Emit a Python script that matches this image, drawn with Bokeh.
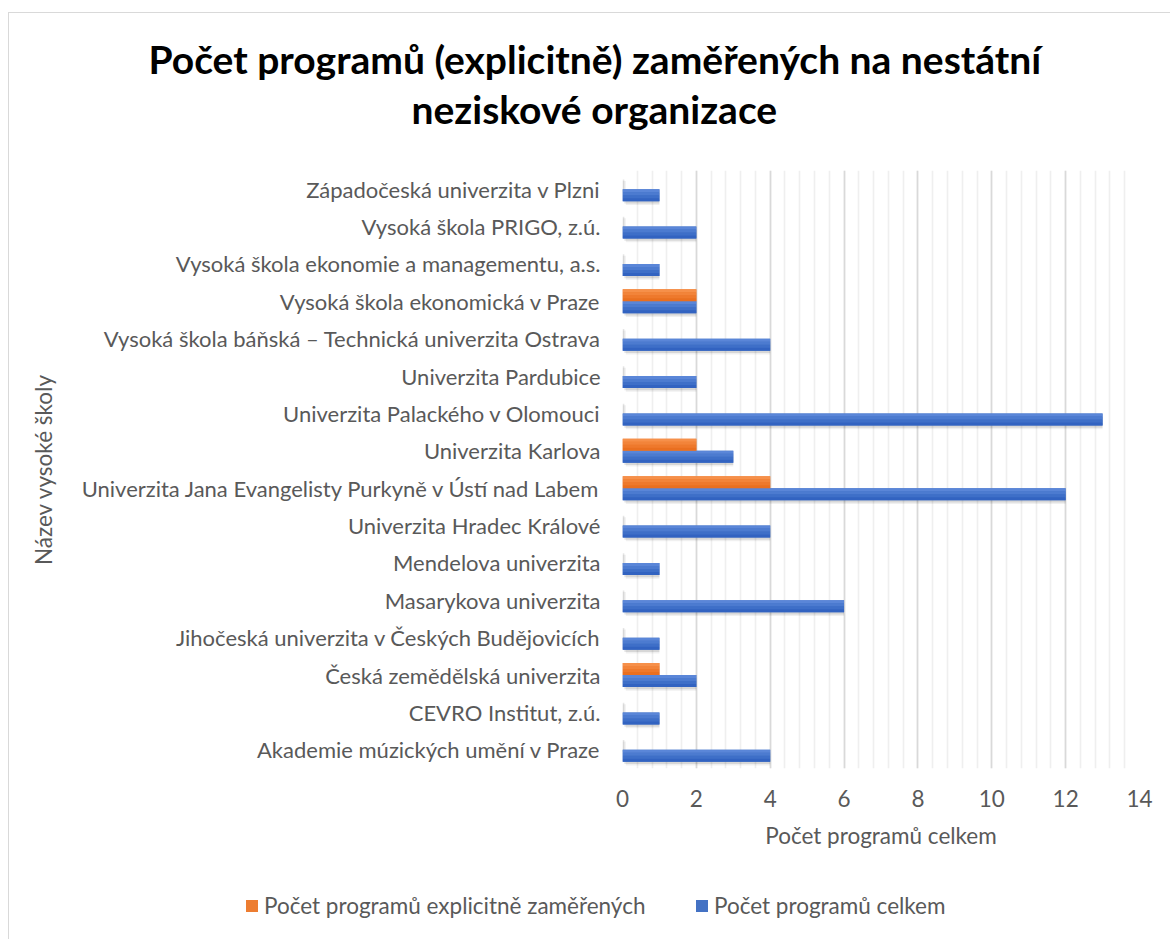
from bokeh.plotting import figure
from bokeh.layouts import column
from bokeh.models import ColumnDataSource, FactorRange, Title, Div, SingleIntervalTicker
from bokeh.transform import dodge
from bokeh.embed import file_html
from bokeh.resources import INLINE

categories = [
    "Západočeská univerzita v Plzni",
    "Vysoká škola PRIGO, z.ú.",
    "Vysoká škola ekonomie a managementu, a.s.",
    "Vysoká škola ekonomická v Praze",
    "Vysoká škola báňská – Technická univerzita Ostrava",
    "Univerzita Pardubice",
    "Univerzita Palackého v Olomouci",
    "Univerzita Karlova",
    "Univerzita Jana Evangelisty Purkyně v Ústí nad Labem",
    "Univerzita Hradec Králové",
    "Mendelova univerzita",
    "Masarykova univerzita",
    "Jihočeská univerzita v Českých Budějovicích",
    "Česká zemědělská univerzita",
    "CEVRO Institut, z.ú.",
    "Akademie múzických umění v Praze",
]
celkem = [1, 2, 1, 2, 4, 2, 13, 3, 12, 4, 1, 6, 1, 2, 1, 4]
explicitne = [0, 0, 0, 2, 0, 0, 0, 2, 4, 0, 0, 0, 0, 1, 0, 0]
x_ticks_interval = 2
x_max = 14

series_names = ["Počet programů explicitně zaměřených", "Počet programů celkem"]
title_lines = ["Počet programů (explicitně) zaměřených na nestátní", "neziskové organizace"]
x_title = "Počet programů celkem"
y_title = "Název vysoké školy"

FONT = "Lato"
GREY = "#595959"
BLUE = "#4472C4"
ORANGE = "#ED7D31"
BLUE_GRAD = ["#5a86d8", "#4c7bd0", "#3e6fc8", "#3263c1"]
ORANGE_GRAD = ["#f6904a", "#f2843a", "#ee792c", "#e96f20"]

src = ColumnDataSource(dict(cat=categories, celkem=celkem, expl=explicitne))

W, H, H_LEG = 1154, 870, 53
p = figure(
    y_range=FactorRange(factors=categories[::-1]),
    x_range=(0, x_max),
    width=W, height=H,
    output_backend="svg", toolbar_location=None,
    min_border_left=613, min_border_right=24,
    min_border_top=157, min_border_bottom=115,
)
p.outline_line_color = None
p.background_fill_color = "white"
p.border_fill_color = "white"

bh = 0.32
off = 0.16
for dx, dy, a in [(0.05, -0.06, 0.10), (0.09, -0.10, 0.06)]:
    p.hbar(y=dodge("cat", off + dy, range=p.y_range), left=dx, right="expl", height=bh,
           source=src, fill_color="black", fill_alpha=a, line_color=None)
    p.hbar(y=dodge("cat", -off + dy, range=p.y_range), left=dx, right="celkem", height=bh,
           source=src, fill_color="black", fill_alpha=a, line_color=None)

p.hbar(y=dodge("cat", off, range=p.y_range), left=0, right="expl", height=bh,
       source=src, fill_color=ORANGE, line_color=None)
p.hbar(y=dodge("cat", -off, range=p.y_range), left=0, right="celkem", height=bh,
       source=src, fill_color=BLUE, line_color=None)
n = 4
sh = bh / n
for k in range(n):
    dyk = bh / 2 - sh * (k + 0.5)
    p.hbar(y=dodge("cat", off + dyk, range=p.y_range), left=0, right="expl", height=sh * 1.02,
           source=src, fill_color=ORANGE_GRAD[k], line_color=None)
    p.hbar(y=dodge("cat", -off + dyk, range=p.y_range), left=0, right="celkem", height=sh * 1.02,
           source=src, fill_color=BLUE_GRAD[k], line_color=None)

p.xaxis.ticker = SingleIntervalTicker(interval=x_ticks_interval, num_minor_ticks=5)
p.xgrid.ticker = p.xaxis.ticker
p.xgrid.grid_line_color = "#d9d9d9"
p.xgrid.grid_line_width = 1.6
p.xgrid.minor_grid_line_color = "#efefef"
p.xgrid.minor_grid_line_width = 1.6
p.ygrid.grid_line_color = None

for ax in (p.xaxis[0], p.yaxis[0]):
    ax.axis_line_color = None
    ax.major_tick_line_color = None
    ax.minor_tick_line_color = None
    ax.major_label_text_font = FONT
    ax.major_label_text_color = GREY
    ax.axis_label_text_font = FONT
    ax.axis_label_text_color = GREY
    ax.axis_label_text_font_style = "normal"

p.xaxis.major_label_text_font_size = "22.5px"
p.xaxis.major_label_standoff = 15
p.xaxis.axis_label = x_title
p.xaxis.axis_label_text_font_size = "22.5px"
p.xaxis.axis_label_standoff = 12

p.yaxis.major_label_text_font_size = "22px"
p.yaxis.major_label_standoff = 16
p.yaxis.axis_label = y_title
p.yaxis.axis_label_text_font_size = "22.5px"
p.yaxis.axis_label_standoff = 22

# title: spacer + two lines stacked in the "above" panel (first added = closest to the frame)
spacer = Title(text=" ", text_font_size="10px", standoff=25, text_color="white")
t2 = Title(text=title_lines[1], align="left", offset=-211, standoff=2,
           text_font=FONT, text_font_size="39px", text_font_style="bold", text_color="black")
t1 = Title(text=title_lines[0], align="left", offset=-474, standoff=2,
           text_font=FONT, text_font_size="39px", text_font_style="bold", text_color="black")
p.add_layout(spacer, "above")
p.add_layout(t2, "above")
p.add_layout(t1, "above")

# legend row
leg_colors = [ORANGE, BLUE]
leg_x = [232, 682]
html = (f'<div style="position:relative;width:{W}px;height:{H_LEG}px;'
        f'font-family:{FONT};font-size:22.5px;color:{GREY};">')
for name, col, x in zip(series_names, leg_colors, leg_x):
    html += (f'<span style="position:absolute;left:{x}px;top:12px;width:12px;height:12px;'
             f'background:{col};"></span>')
    html += (f'<span style="position:absolute;left:{x + 18}px;top:4px;line-height:27px;'
             f'white-space:nowrap;">{name}</span>')
html += '</div>'
leg = Div(text=html, width=W, height=H_LEG)

layout = column(p, leg, spacing=0)
layout.styles = {"margin-top": "12px", "margin-left": "8px",
                 "border-left": "1px solid #d9d9d9", "border-top": "1px solid #d9d9d9"}

open("out.html", "w").write(file_html(layout, INLINE))
